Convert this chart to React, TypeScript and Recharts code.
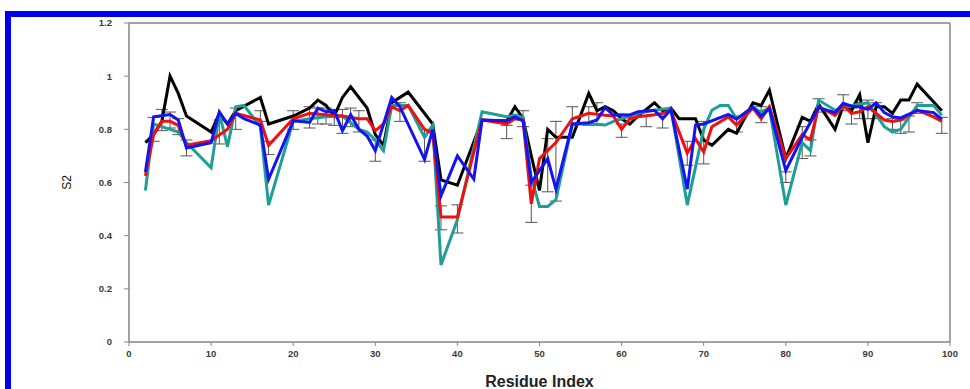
import React from 'react';
import { LineChart, Line, XAxis, YAxis, ErrorBar, ReferenceLine, Label } from 'recharts';

// S2 order parameters per residue (vertices)
const blackRes = [2, 3, 4, 5, 6, 7, 10, 11, 12, 13, 16, 17, 20, 22, 23, 24, 25, 26, 27, 29, 30, 31, 32, 34, 35, 37, 38, 40, 43, 46, 47, 48, 49, 50, 51, 52, 54, 56, 57, 58, 59, 60, 61, 62, 64, 65, 66, 67, 69, 70, 71, 73, 74, 76, 77, 78, 80, 82, 83, 84, 86, 87, 88, 89, 90, 91, 92, 93, 94, 95, 96, 99];
const blackS2 = [0.75, 0.78, 0.83, 1.0, 0.935, 0.85, 0.79, 0.86, 0.82, 0.87, 0.92, 0.82, 0.85, 0.88, 0.91, 0.89, 0.85, 0.92, 0.96, 0.88, 0.78, 0.74, 0.9, 0.94, 0.9, 0.82, 0.61, 0.59, 0.835, 0.83, 0.885, 0.84, 0.7, 0.57, 0.8, 0.77, 0.77, 0.935, 0.87, 0.885, 0.87, 0.84, 0.82, 0.85, 0.9, 0.87, 0.88, 0.84, 0.84, 0.76, 0.74, 0.8, 0.785, 0.9, 0.89, 0.947, 0.69, 0.845, 0.83, 0.895, 0.8, 0.89, 0.87, 0.93, 0.75, 0.885, 0.885, 0.86, 0.91, 0.91, 0.97, 0.87];

const tealRes = [2, 3, 4, 5, 6, 7, 10, 11, 12, 13, 14, 16, 17, 20, 22, 24, 26, 28, 29, 30, 31, 32, 34, 36, 37, 38, 40, 43, 46, 47, 48, 49, 50, 51, 52, 54, 56, 58, 59, 60, 62, 64, 66, 68, 70, 71, 72, 73, 74, 76, 77, 78, 80, 82, 83, 84, 86, 87, 88, 90, 92, 93, 94, 96, 98, 99];
const tealS2 = [0.57, 0.82, 0.81, 0.8, 0.79, 0.75, 0.655, 0.86, 0.735, 0.885, 0.89, 0.81, 0.515, 0.83, 0.84, 0.847, 0.85, 0.8, 0.79, 0.76, 0.72, 0.89, 0.89, 0.77, 0.816, 0.29, 0.46, 0.866, 0.847, 0.854, 0.845, 0.62, 0.51, 0.51, 0.535, 0.82, 0.82, 0.816, 0.83, 0.84, 0.86, 0.872, 0.88, 0.515, 0.8, 0.872, 0.89, 0.89, 0.84, 0.88, 0.866, 0.88, 0.515, 0.75, 0.72, 0.91, 0.872, 0.88, 0.89, 0.9, 0.81, 0.79, 0.8, 0.89, 0.89, 0.853];

const redRes = [2, 3, 4, 5, 6, 7, 10, 12, 13, 16, 17, 20, 22, 24, 26, 28, 29, 30, 31, 32, 33, 34, 36, 37, 38, 40, 43, 46, 47, 48, 49, 50, 52, 54, 56, 58, 59, 60, 61, 62, 64, 65, 66, 68, 69, 70, 71, 73, 74, 76, 77, 78, 80, 82, 83, 84, 86, 87, 88, 89, 90, 92, 93, 94, 96, 98, 99];
const redS2 = [0.625, 0.78, 0.83, 0.83, 0.815, 0.74, 0.757, 0.8, 0.86, 0.835, 0.74, 0.84, 0.86, 0.855, 0.85, 0.84, 0.84, 0.795, 0.82, 0.885, 0.87, 0.89, 0.8, 0.785, 0.47, 0.47, 0.835, 0.82, 0.84, 0.835, 0.52, 0.69, 0.75, 0.84, 0.86, 0.853, 0.85, 0.8, 0.84, 0.847, 0.855, 0.86, 0.87, 0.71, 0.765, 0.715, 0.81, 0.847, 0.816, 0.88, 0.84, 0.885, 0.69, 0.78, 0.76, 0.885, 0.853, 0.89, 0.86, 0.866, 0.885, 0.835, 0.83, 0.835, 0.872, 0.847, 0.83];

const blueRes = [2, 3, 5, 6, 7, 10, 11, 12, 13, 14, 16, 17, 20, 22, 23, 24, 25, 26, 27, 28, 29, 30, 32, 33, 36, 37, 38, 40, 42, 43, 46, 47, 48, 49, 51, 52, 54, 56, 57, 58, 59, 60, 61, 62, 64, 65, 66, 68, 69, 70, 73, 74, 76, 77, 78, 80, 82, 84, 86, 87, 88, 89, 90, 91, 92, 93, 94, 96, 98, 99];
const blueS2 = [0.64, 0.847, 0.856, 0.835, 0.73, 0.75, 0.866, 0.82, 0.86, 0.84, 0.816, 0.612, 0.832, 0.826, 0.88, 0.866, 0.87, 0.795, 0.855, 0.8, 0.775, 0.72, 0.92, 0.885, 0.687, 0.8, 0.55, 0.7, 0.613, 0.835, 0.832, 0.847, 0.832, 0.6, 0.69, 0.575, 0.82, 0.825, 0.835, 0.882, 0.853, 0.855, 0.854, 0.866, 0.872, 0.84, 0.875, 0.575, 0.816, 0.82, 0.856, 0.838, 0.885, 0.85, 0.878, 0.645, 0.77, 0.882, 0.863, 0.898, 0.887, 0.885, 0.875, 0.9, 0.863, 0.847, 0.843, 0.871, 0.863, 0.838];

// error bars: residue, centre, half-width
const errRes = [3, 4, 5, 6, 7, 11, 13, 16, 17, 20, 22, 23, 24, 25, 26, 27, 28, 30, 33, 36, 38, 40, 46, 48, 49, 51, 52, 54, 56, 57, 60, 63, 65, 68, 70, 74, 77, 80, 82, 83, 84, 87, 88, 89, 90, 91, 93, 94, 95, 96, 99];
const errMid = [0.8, 0.835, 0.835, 0.81, 0.73, 0.79, 0.84, 0.85, 0.73, 0.835, 0.845, 0.85, 0.85, 0.845, 0.83, 0.845, 0.83, 0.72, 0.865, 0.74, 0.467, 0.463, 0.79, 0.84, 0.52, 0.665, 0.68, 0.85, 0.85, 0.86, 0.795, 0.83, 0.84, 0.71, 0.75, 0.82, 0.855, 0.62, 0.75, 0.73, 0.89, 0.9, 0.85, 0.87, 0.875, 0.87, 0.82, 0.81, 0.82, 0.88, 0.815];
const errHalf = [0.045, 0.04, 0.03, 0.03, 0.03, 0.045, 0.04, 0.02, 0.025, 0.035, 0.04, 0.03, 0.03, 0.03, 0.045, 0.035, 0.04, 0.04, 0.035, 0.06, 0.045, 0.053, 0.025, 0.03, 0.07, 0.1, 0.15, 0.035, 0.035, 0.04, 0.025, 0.02, 0.035, 0.045, 0.08, 0.03, 0.03, 0.02, 0.06, 0.03, 0.025, 0.03, 0.03, 0.03, 0.035, 0.03, 0.02, 0.025, 0.03, 0.02, 0.03];

const xTicks = [0, 10, 20, 30, 40, 50, 60, 70, 80, 90, 100];
const yTicks = [0, 0.2, 0.4, 0.6, 0.8, 1, 1.2];

const pts = (res: number[], vals: number[]) => res.map((r, i) => ({ r, s2: vals[i] }));
const errPts = errRes.map((r, i) => ({ r, m: errMid[i], e: errHalf[i] }));

const AXIS = '#858585';
const tickStyle = { fill: '#3a3a3a', fontSize: 9.5, fontWeight: 700, fontFamily: 'Liberation Sans, Arial, sans-serif' };

function YLabel({ viewBox }: any) {
  const cx = viewBox.x - 2;
  const cy = viewBox.y + viewBox.height / 2;
  return (
    <text x={cx} y={cy} transform={`rotate(-90 ${cx} ${cy})`} textAnchor="middle" dominantBaseline="central"
      style={{ fontSize: 12, fontFamily: 'Liberation Sans, Arial, sans-serif', fill: '#111' }}>
      S2
    </text>
  );
}

export default function App() {
  return (
    <div style={{ position: 'absolute', left: 0, top: 0, width: 970, height: 389, overflow: 'hidden', background: '#fff' }}>
      <div style={{ position: 'absolute', left: 5, top: 11, width: 1000, height: 400, borderTop: '6px solid #0000f0', borderLeft: '6px solid #0000f0' }} />
      <div style={{ position: 'absolute', left: 0, top: 0 }}>
        <LineChart width={970} height={389} margin={{ top: 23, right: 20, bottom: 0, left: 69 }}>
          <XAxis type="number" dataKey="r" domain={[0, 100]} ticks={xTicks} height={47}
            tick={tickStyle} tickSize={4} tickMargin={4}
            axisLine={{ stroke: AXIS, strokeWidth: 1.5 }} tickLine={{ stroke: AXIS }}>
            <Label value="Residue Index" position="insideBottom" offset={2}
              style={{ fontSize: 16, fontWeight: 700, fill: '#222', fontFamily: 'Liberation Sans, Arial, sans-serif' }} />
          </XAxis>
          <YAxis type="number" domain={[0, 1.2]} ticks={yTicks} width={60}
            tick={tickStyle} tickSize={5} tickMargin={12}
            axisLine={{ stroke: AXIS, strokeWidth: 1.5 }} tickLine={{ stroke: AXIS }}
            label={<YLabel />} />
          <ReferenceLine y={1.2} stroke={AXIS} strokeWidth={1.5} />
          <ReferenceLine x={100} stroke={AXIS} strokeWidth={1.5} />
          <Line data={errPts} dataKey="m" stroke="none" dot={false} activeDot={false} isAnimationActive={false}>
            <ErrorBar dataKey="e" direction="y" width={6} stroke="#555" strokeWidth={1} />
          </Line>
          <Line data={pts(blackRes, blackS2)} dataKey="s2" stroke="#000" strokeWidth={3} dot={false} isAnimationActive={false} />
          <Line data={pts(tealRes, tealS2)} dataKey="s2" stroke="#1f9e98" strokeWidth={3} dot={false} isAnimationActive={false} />
          <Line data={pts(redRes, redS2)} dataKey="s2" stroke="#f01010" strokeWidth={3} dot={false} isAnimationActive={false} />
          <Line data={pts(blueRes, blueS2)} dataKey="s2" stroke="#1414f0" strokeWidth={3} dot={false} isAnimationActive={false} />
        </LineChart>
      </div>
    </div>
  );
}
